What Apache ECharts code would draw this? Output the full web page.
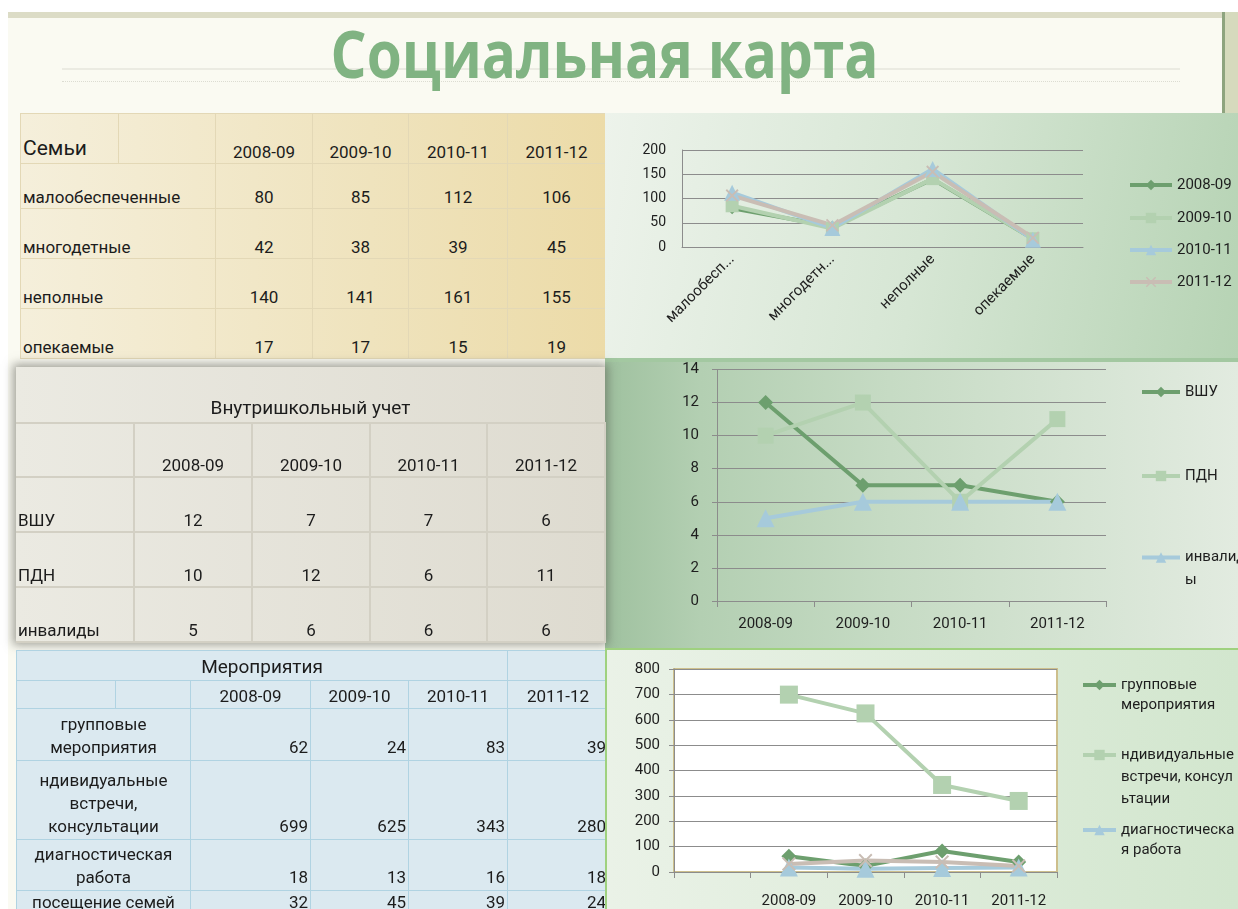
<!DOCTYPE html>
<html>
<head>
<meta charset="utf-8">
<script src="https://cdn.jsdelivr.net/npm/echarts@6/dist/echarts.min.js"></script>
<style>
  body { margin: 0; width: 1238px; height: 909px; overflow: hidden; background: #fff; position: relative;
         font-family: Roboto, "Noto Sans", sans-serif; color: #1c1c1c; }
  .abs { position: absolute; }
  table { border-collapse: collapse; table-layout: fixed; }
  td { padding: 0 2px 1px 2px; vertical-align: bottom; white-space: nowrap; overflow: hidden; }
  #t1 td { border: 1px solid #e3d8b6; font-size: 17px; text-align: center; }
  #t1 td.lbl { text-align: left; }
  #t1 td.big { font-size: 21px; }
  #t2 td { border: 2px solid #d3d0c4; font-size: 17px; text-align: center; }
  #t2 td.lbl { text-align: left; }
  #t3 td { border: 1px solid #b0d3e2; font-size: 17px; text-align: right; line-height: 23px; }
  #t3 td.lbl { text-align: center; white-space: normal; }
  #t3 td.c { text-align: center; }
</style>
</head>
<body>
<div class="abs" style="left:8px;top:12px;width:1214px;height:897px;background:#fafaf2;border-top:6px solid #dcdcc6;"></div>
<div class="abs" style="left:1222px;top:12px;width:16px;height:101px;background:#d6dabd;border-left:3px solid #8ea47f;box-sizing:border-box;"></div>
<div class="abs" style="left:62px;top:68px;width:1118px;height:2px;background:#ebebe2;"></div>
<div class="abs" style="left:62px;top:81px;width:1118px;height:0;border-top:1px dotted #dcdcd2;"></div>
<div id="title" class="abs" style="left:0;top:19px;width:1210px;text-align:center;">
  <span id="titleText" style="display:inline-block;font-family:'Open Sans';font-weight:bold;font-size:67px;line-height:67px;color:#80b382;transform-origin:center;">Социальная карта</span>
</div>

<div class="abs" style="left:20px;top:113px;width:585px;height:245px;background:linear-gradient(to right,#f5efdb,#efe3bd 60%,#ecdba8);"></div>
<table id="t1" class="abs" style="left:20px;top:113px;width:585px;"></table>

<div id="c1" class="abs" style="left:605px;top:113px;width:633px;height:245px;background:linear-gradient(100deg,#edf3eb 0%,#d6e6d4 50%,#b6d3b4 100%);"></div>

<div id="c2" class="abs" style="left:605px;top:358px;width:633px;height:292px;border-top:4px solid #a3c8a1;box-sizing:border-box;background:linear-gradient(to right,#9fc19f 0%,#b3cfb2 15%,#c6dbc4 45%,#e2ebe0 100%);"></div>

<div class="abs" style="left:16px;top:367px;width:589px;height:275px;background:linear-gradient(to right,#ebeae2,#dedbd0);box-shadow:0 0 9px 3px rgba(90,90,80,0.55);"></div>
<table id="t2" class="abs" style="left:16px;top:367px;width:589px;"></table>

<div class="abs" style="left:16px;top:650px;width:592px;height:259px;background:#dbe9f0;"></div>
<table id="t3" class="abs" style="left:16px;top:650px;width:592px;"></table>

<div id="c3" class="abs" style="left:605px;top:648px;width:633px;height:261px;border-top:2px solid #9fd17f;border-left:2px solid #9fd17f;box-sizing:border-box;background:linear-gradient(to right,#eaf2e7,#d2e6ce);"></div>

<script>
// years (columns / categories)
const years = ['2008-09', '2009-10', '2010-11', '2011-12'];

// Семьи
const familyTypes = ['малообеспеченные', 'многодетные', 'неполные', 'опекаемые'];
const fam0809 = [80, 42, 140, 17];
const fam0910 = [85, 38, 141, 17];
const fam1011 = [112, 39, 161, 15];
const fam1112 = [106, 45, 155, 19];
const famByYear = [fam0809, fam0910, fam1011, fam1112];

// Внутришкольный учет
const schoolRows = ['ВШУ', 'ПДН', 'инвалиды'];
const vshu = [12, 7, 7, 6];
const pdn = [10, 12, 6, 11];
const invalids = [5, 6, 6, 6];

// Мероприятия
const eventRows = ['групповые мероприятия', 'ндивидуальные встречи, консультации', 'диагностическая работа', 'посещение семей'];
const groupEvents = [62, 24, 83, 39];
const individualMeet = [699, 625, 343, 280];
const diagnostics = [18, 13, 16, 18];
const familyVisits = [32, 45, 39, 24];
// the chart of events has an empty first category
const eventCats = [''].concat(years);

const ticks1 = [0, 50, 100, 150, 200];
const ticks2 = [0, 2, 4, 6, 8, 10, 12, 14];
const ticks3 = [0, 100, 200, 300, 400, 500, 600, 700, 800];

const colDark = '#6d9f6e', colLight = '#b3d1b0', colBlue = '#a6cadb', colBeige = '#c9bdb4';
const xMark = 'path://M0,1L1,0L5,4L9,0L10,1L6,5L10,9L9,10L5,6L1,10L0,9L4,5Z';
const FONT = 'Roboto';

// ---------- tables ----------
let h = '<colgroup><col style="width:98px"><col style="width:97px"><col style="width:97px"><col style="width:96px"><col style="width:99px"><col style="width:98px"></colgroup>';
h += '<tr style="height:50px"><td class="lbl big" style="padding-bottom:3px">Семьи</td><td></td>' + years.map(y => '<td>' + y + '</td>').join('') + '</tr>';
const rh1 = [45, 50, 50, 50];
familyTypes.forEach((f, i) => {
  h += '<tr style="height:' + rh1[i] + 'px"><td colspan="2" class="lbl">' + f + '</td>' + famByYear.map(a => '<td>' + a[i] + '</td>').join('') + '</tr>';
});
document.getElementById('t1').innerHTML = h;

const schoolData = [vshu, pdn, invalids];
h = '<colgroup><col style="width:118px"><col style="width:118px"><col style="width:118px"><col style="width:117px"><col style="width:118px"></colgroup>';
h += '<tr style="height:56px"><td colspan="5" style="font-size:19px;padding-bottom:3px;border-top:none;border-left:none;border-right:none">Внутришкольный учет</td></tr>';
h += '<tr style="height:54px"><td style="border-left:none"></td>' + years.map(y => '<td>' + y + '</td>').join('') + '</tr>';
const rh2 = [55, 55, 55];
schoolRows.forEach((r, i) => {
  h += '<tr style="height:' + rh2[i] + 'px"><td class="lbl" style="border-left:none">' + r + '</td>' + schoolData[i].map(v => '<td>' + v + '</td>').join('') + '</tr>';
});
document.getElementById('t2').innerHTML = h;

const eventData = [groupEvents, individualMeet, diagnostics, familyVisits];
const eventLabels = ['групповые<br>мероприятия', 'ндивидуальные<br>встречи,<br>консультации', 'диагностическая<br>работа', 'посещение семей'];
h = '<colgroup><col style="width:99px"><col style="width:75px"><col style="width:120px"><col style="width:98px"><col style="width:99px"><col style="width:101px"></colgroup>';
h += '<tr style="height:30px"><td colspan="5" class="c" style="font-size:19px;padding-bottom:2px">Мероприятия</td><td></td></tr>';
h += '<tr style="height:28px"><td></td><td></td>' + years.map(y => '<td class="c" style="padding-bottom:0">' + y + '</td>').join('') + '</tr>';
const rh3 = [52, 79, 51, 24];
eventRows.forEach((r, i) => {
  h += '<tr style="height:' + rh3[i] + 'px"><td colspan="2" class="lbl">' + eventLabels[i] + '</td>' + eventData[i].map(v => '<td>' + v + '</td>').join('') + '</tr>';
});
document.getElementById('t3').innerHTML = h;

// title width
const tt = document.getElementById('titleText');
tt.style.transform = 'scaleX(' + (548 / tt.getBoundingClientRect().width) + ')';

// ---------- charts ----------
function line(name, data, color, symbol, size) {
  return {
    name: name, type: 'line', data: data, symbol: symbol, symbolSize: size,
    lineStyle: { color: color, width: 4 }, itemStyle: { color: color }
  };
}
const axisTxt = { color: '#1e1e1e', fontFamily: FONT };
const gridLine = { lineStyle: { color: '#8c8c8c', width: 1 } };
function oneLegend(name, left, top, w, lh, extraLines) {
  return {
    data: [name], orient: 'vertical', left: left, top: top, padding: 0,
    itemWidth: w, itemHeight: 13, selectedMode: false,
    lineStyle: { width: 4 },
    formatter: extraLines ? function () { return extraLines; } : undefined,
    textStyle: { fontSize: 15, color: '#1e1e1e', fontFamily: FONT, lineHeight: lh }
  };
}

// chart 1: families
const ch1 = echarts.init(document.getElementById('c1'));
const legTop1 = [72, 105, 137, 169];
ch1.setOption({
  animation: false,
  grid: { left: 77, right: 155, top: 37, bottom: 111 },
  legend: years.map((y, i) => oneLegend(y, 523, legTop1[i] - 8, 42, 16)),
  xAxis: {
    type: 'category', data: familyTypes, boundaryGap: true,
    axisLine: { lineStyle: { color: '#8c8c8c' } }, axisTick: { show: false },
    axisLabel: Object.assign({ fontSize: 15, rotate: 45, margin: 10, interval: 0,
      formatter: v => v.length > 9 ? v.slice(0, 9) + '...' : v }, axisTxt)
  },
  yAxis: {
    type: 'value', min: ticks1[0], max: ticks1[ticks1.length - 1], interval: 50,
    axisLine: { show: true, lineStyle: { color: '#8c8c8c' } }, axisTick: { show: false },
    axisLabel: Object.assign({ fontSize: 14, margin: 16 }, axisTxt),
    splitLine: gridLine
  },
  series: [
    line(years[0], fam0809, colDark, 'diamond', 12),
    line(years[1], fam0910, colLight, 'rect', 13),
    line(years[2], fam1011, colBlue, 'triangle', 16),
    line(years[3], fam1112, colBeige, xMark, 13)
  ]
});

// chart 2: school register
const ch2 = echarts.init(document.getElementById('c2'));
ch2.setOption({
  animation: false,
  grid: { left: 112, right: 132, top: 4, bottom: 49 },
  legend: [
    oneLegend(schoolRows[0], 535, 30 - 8, 38, 16),
    oneLegend(schoolRows[1], 535, 114 - 8, 38, 16),
    oneLegend(schoolRows[2], 535, 195 - 34, 38, 23, '\nинвалид\nы')
  ],
  xAxis: {
    type: 'category', data: years, boundaryGap: true,
    axisLine: { lineStyle: { color: '#8c8c8c' } },
    axisTick: { show: true, length: 6, lineStyle: { color: '#8c8c8c' } },
    axisLabel: Object.assign({ fontSize: 15, margin: 16 }, axisTxt)
  },
  yAxis: {
    type: 'value', min: ticks2[0], max: ticks2[ticks2.length - 1], interval: 2,
    axisLine: { show: true, lineStyle: { color: '#8c8c8c' } },
    axisTick: { show: true, length: 5, lineStyle: { color: '#8c8c8c' } },
    axisLabel: Object.assign({ fontSize: 15, margin: 18 }, axisTxt),
    splitLine: gridLine
  },
  series: [
    line(schoolRows[0], vshu, colDark, 'diamond', 15),
    line(schoolRows[1], pdn, colLight, 'rect', 16),
    line(schoolRows[2], invalids, colBlue, 'triangle', 18)
  ]
});

// chart 3: events
const ch3 = echarts.init(document.getElementById('c3'));
ch3.setOption({
  animation: false,
  grid: { left: 67, right: 181, top: 19, bottom: 37, show: true, backgroundColor: '#ffffff', borderColor: '#cdbf8c', borderWidth: 2 },
  legend: [
    oneLegend(eventRows[0], 474, 35 - 30, 33, 20, '\nгрупповые\nмероприятия'),
    oneLegend(eventRows[1], 474, 105 - 55, 33, 22, '\n\nндивидуальные\nвстречи, консул\nьтации'),
    oneLegend(eventRows[2], 474, 180 - 30, 33, 20, '\nдиагностическа\nя работа')
  ],
  xAxis: {
    type: 'category', data: eventCats, boundaryGap: true,
    axisLine: { lineStyle: { color: '#8c8c8c' } },
    axisTick: { show: true, length: 6, lineStyle: { color: '#8c8c8c' } },
    axisLabel: Object.assign({ fontSize: 15, margin: 22, interval: 0 }, axisTxt)
  },
  yAxis: {
    type: 'value', min: ticks3[0], max: ticks3[ticks3.length - 1], interval: 100,
    axisLine: { show: true, lineStyle: { color: '#8c8c8c' } },
    axisTick: { show: true, length: 5, lineStyle: { color: '#8c8c8c' } },
    axisLabel: Object.assign({ fontSize: 15, margin: 14 }, axisTxt),
    splitLine: gridLine
  },
  series: [
    line(eventRows[0], [null].concat(groupEvents), colDark, 'diamond', 15),
    line(eventRows[1], [null].concat(individualMeet), colLight, 'rect', 18),
    line(eventRows[2], [null].concat(diagnostics), colBlue, 'triangle', 18),
    line(eventRows[3], [null].concat(familyVisits), colBeige, xMark, 14)
  ]
});
</script>
</body>
</html>
